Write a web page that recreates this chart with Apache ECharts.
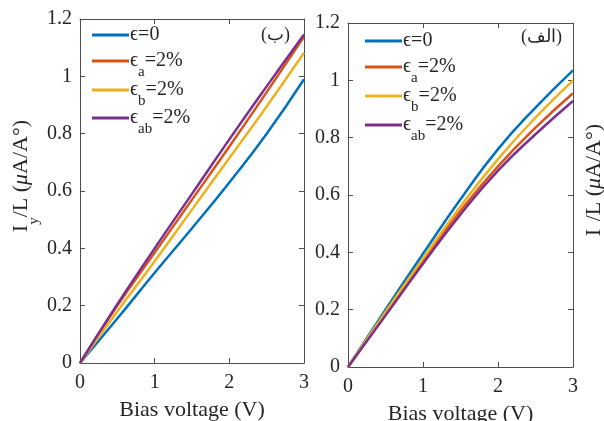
<!DOCTYPE html>
<html>
<head>
<meta charset="utf-8">
<script src="https://cdn.jsdelivr.net/npm/echarts@6/dist/echarts.min.js"></script>
<style>html,body{margin:0;padding:0;background:#fff}#c{width:604px;height:421px}</style>
</head>
<body>
<div id="c"></div>
<script>
// ---- data ----
const xVals = [0, 0.5, 1, 1.5, 2, 2.5, 3];
const seriesNames = ['ϵ=0', 'ϵa=2%', 'ϵb=2%', 'ϵab=2%'];
const seriesSubs = ['', 'a', 'b', 'ab'];
// left panel (ب)
const leftE0  = [0, 0.155, 0.315, 0.47, 0.63, 0.80, 0.99];
const leftEa  = [0, 0.20, 0.385, 0.57, 0.755, 0.945, 1.138];
const leftEb  = [0, 0.18, 0.355, 0.535, 0.715, 0.895, 1.082];
const leftEab = [0, 0.205, 0.40, 0.59, 0.78, 0.965, 1.146];
// right panel (الف)
const rightE0  = [0, 0.20, 0.395, 0.585, 0.76, 0.905, 1.035];
const rightEa  = [0, 0.187, 0.37, 0.545, 0.70, 0.835, 0.955];
const rightEb  = [0, 0.192, 0.378, 0.56, 0.725, 0.87, 1.0];
const rightEab = [0, 0.18, 0.36, 0.532, 0.685, 0.812, 0.928];
const xTicks = [0, 1, 2, 3];
const yTicks = [0, 0.2, 0.4, 0.6, 0.8, 1, 1.2];
const panelLabels = ['(ب)', '(الف)'];
const xTitle = 'Bias voltage (V)';

const colors = ['#0072BD', '#D95319', '#EDB120', '#7E2F8E'];
const FONT = 'Liberation Serif';
const TXT = '#262626';
const axisColor = '#4d4d4d';

function pairs(ys) { return xVals.map((x, i) => [x, ys[i]]); }

const legRich = {
  e: { fontFamily: FONT, fontSize: 20, color: TXT, lineHeight: 30, verticalAlign: 'middle' },
  s: { fontFamily: FONT, fontSize: 15, color: TXT, lineHeight: 30, verticalAlign: 'bottom', padding: [0, 0, -4, 0] }
};
function legendFmt(name) {
  const k = seriesNames.indexOf(name);
  if (!seriesSubs[k]) return '{e|ϵ=0}';
  return '{e|ϵ}{s|' + seriesSubs[k] + '}{e|=2%}';
}

const grids = [
  { left: 80, right: 300, top: 19, bottom: 58, outerBoundsMode: 'none', containLabel: false },
  { left: 348, right: 31, top: 23, bottom: 54, outerBoundsMode: 'none', containLabel: false }
];

const lineSt = { show: true, onZero: false, lineStyle: { color: axisColor, width: 1 } };
const tickSt = { show: true, inside: true, length: 5, lineStyle: { color: axisColor } };

function mainX(gi) {
  return {
    type: 'value', gridIndex: gi, min: 0, max: 3, interval: 1, position: 'bottom',
    name: xTitle, nameLocation: 'middle', nameGap: 36,
    nameTextStyle: { fontFamily: FONT, fontSize: 22, color: TXT },
    axisLine: lineSt, axisTick: tickSt,
    axisLabel: { show: true, fontFamily: FONT, fontSize: 20, color: TXT, margin: 10 },
    splitLine: { show: false }
  };
}
function topX(gi) {
  return {
    type: 'value', gridIndex: gi, min: 0, max: 3, interval: 1, position: 'top',
    axisLine: lineSt, axisTick: tickSt,
    axisLabel: { show: false }, splitLine: { show: false }
  };
}
const yName = '{m|I}{s|y}{m|/L (}{i|μ}{m|A/A°)}';
const yRich = {
  m: { fontFamily: FONT, fontSize: 22, color: TXT, lineHeight: 36, verticalAlign: 'middle' },
  i: { fontFamily: FONT, fontStyle: 'italic', fontSize: 22, color: TXT, lineHeight: 36, verticalAlign: 'middle' },
  s: { fontFamily: FONT, fontSize: 15, color: TXT, lineHeight: 36, verticalAlign: 'bottom', padding: [0, 0, -3, 0] }
};
function yAxisOf(gi, pos, withLabels, withName, gap) {
  const o = {
    type: 'value', gridIndex: gi, min: 0, max: 1.2, interval: 0.2, position: pos,
    axisLine: lineSt, axisTick: tickSt,
    axisLabel: withLabels ? { show: true, fontFamily: FONT, fontSize: 20, color: TXT, margin: 8,
      formatter: function (v) { return String(Math.round(v * 10) / 10); } } : { show: false },
    splitLine: { show: false }
  };
  if (withName) {
    o.name = yName; o.nameLocation = 'middle'; o.nameGap = gap; o.nameRotate = 90;
    o.nameMoveOverlap = false;
    o.nameTextStyle = { rich: yRich, padding: [0, 0, 0, 30] };
  }
  return o;
}

const leftData = [leftE0, leftEa, leftEb, leftEab];
const rightData = [rightE0, rightEa, rightEb, rightEab];
const series = [];
[leftData, rightData].forEach(function (set, gi) {
  set.forEach(function (ys, k) {
    series.push({
      type: 'line', name: seriesNames[k], xAxisIndex: gi * 2, yAxisIndex: gi * 2,
      data: pairs(ys), smooth: 0.5, showSymbol: false, symbol: 'none',
      lineStyle: { color: colors[k], width: 2.5 }, itemStyle: { color: colors[k] },
      z: 3 + k
    });
  });
});

// one legend component per entry so rows sit exactly where the reference puts them
const legendRowsLeft = [34, 59, 88, 116];
const legendRowsRight = [40, 65, 94, 123];
const legends = [];
[[92, legendRowsLeft], [365, legendRowsRight]].forEach(function (cfg) {
  cfg[1].forEach(function (cy, k) {
    legends.push({
      left: cfg[0], top: cy - (k === 0 ? 9 : 8), padding: 0, orient: 'vertical',
      itemWidth: 37, itemHeight: 3, icon: 'rect', itemGap: 0,
      data: [{ name: seriesNames[k], itemStyle: { color: colors[k] } }],
      formatter: legendFmt,
      textStyle: { rich: legRich, padding: [0, 0, 0, -4] },
      selectedMode: false
    });
  });
});

const chart = echarts.init(document.getElementById('c'), null, { renderer: 'canvas' });
chart.setOption({
  animation: false,
  backgroundColor: '#fff',
  grid: grids,
  xAxis: [mainX(0), topX(0), mainX(1), topX(1)],
  yAxis: [
    yAxisOf(0, 'left', true, true, 41),
    yAxisOf(0, 'right', false, false, 0),
    yAxisOf(1, 'left', true, false, 0),
    yAxisOf(1, 'right', false, true, 3)
  ],
  legend: legends,
  graphic: [
    { type: 'text', right: 314, top: 26, style: { text: panelLabels[0], font: '18px "Liberation Serif"', fill: TXT } },
    { type: 'text', right: 42, top: 28, style: { text: panelLabels[1], font: '18px "Liberation Serif"', fill: TXT } }
  ],
  series: series
});
</script>
</body>
</html>
